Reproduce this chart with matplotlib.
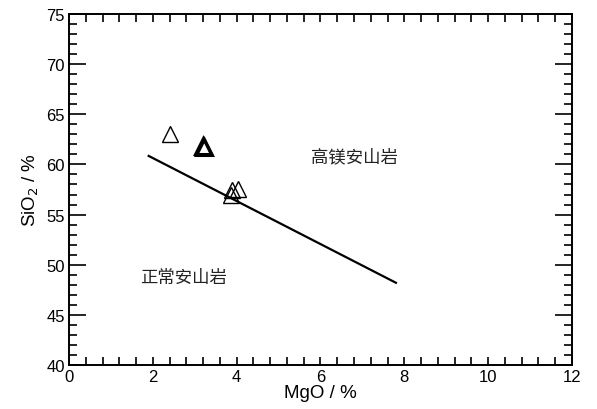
import matplotlib
matplotlib.use('Agg')
import matplotlib.pyplot as plt
from matplotlib.ticker import MultipleLocator

plt.rcParams['font.family'] = ['Liberation Sans', 'Noto Sans CJK SC', 'DejaVu Sans']

# samples (MgO %, SiO2 %)
mgo = [2.4, 3.88, 4.04, 3.86]
sio2 = [63.0, 57.5, 57.6, 57.0]
# overlapping samples drawn bold
mgo_bold = [3.2, 3.22]
sio2_bold = [61.8, 61.75]

# boundary line between normal and high-Mg andesite
line_x = [1.9, 7.8]
line_y = [60.85, 48.2]

fig = plt.figure(figsize=(5.97, 4.10), dpi=100)
ax = fig.add_axes([0.1156, 0.1073, 0.8425, 0.8561])

ax.plot(line_x, line_y, color='black', lw=1.6)
ax.plot(mgo, sio2, ls='none', marker='^', ms=11, mfc='none', mec='black', mew=1.0)
ax.plot(mgo_bold, sio2_bold, ls='none', marker='^', ms=11, mfc='none', mec='black', mew=2.2)

cjk = ['Noto Sans CJK SC', 'DejaVu Sans']
ax.text(6.8, 60.8, '高镁安山岩', fontsize=12.5, ha='center', va='center',
        family=cjk, weight='light', color='#222222')
ax.text(2.74, 48.8, '正常安山岩', fontsize=12.5, ha='center', va='center',
        family=cjk, weight='light', color='#222222')

ax.set_xlim(0, 12)
ax.set_ylim(40, 75)
ax.xaxis.set_major_locator(MultipleLocator(2))
ax.xaxis.set_minor_locator(MultipleLocator(0.4))
ax.yaxis.set_major_locator(MultipleLocator(5))
ax.yaxis.set_minor_locator(MultipleLocator(1))
ax.tick_params(which='both', direction='in', top=True, right=True, width=1.2,
               labelsize=12, pad=3)
ax.tick_params(which='major', length=12)
ax.tick_params(which='minor', length=6)
ax.tick_params(axis='x', which='major', length=6)
for s in ax.spines.values():
    s.set_linewidth(1.4)

ax.set_xlabel('MgO / %', fontsize=13.5, labelpad=0)
ax.set_ylabel('SiO$_2$ / %', fontsize=13.5, labelpad=4)

fig.savefig('out.png', dpi=100)
